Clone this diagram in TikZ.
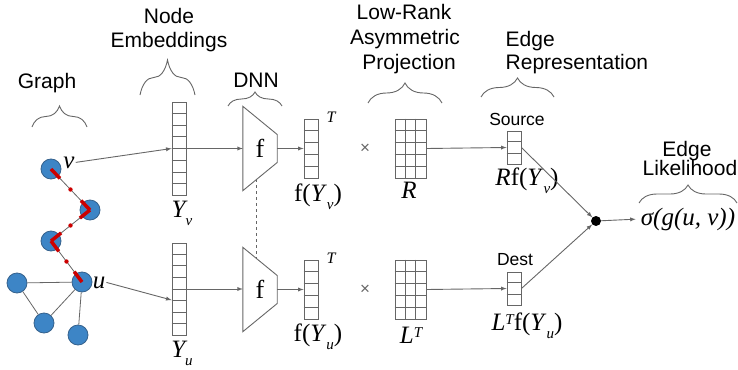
\documentclass[tikz,border=0pt]{standalone}
\usepackage{fontspec}
\setmainfont{Liberation Sans}
\newfontfamily\timesf{Liberation Serif}
\usetikzlibrary{positioning,arrows,calc,decorations.pathreplacing}
\definecolor{linegray}{HTML}{666666}
\definecolor{nodeblue}{HTML}{3D85C6}
\definecolor{nodeedge}{HTML}{35618C}
\definecolor{walkred}{HTML}{CC0000}
\newcommand{\lowsub}[1]{\raisebox{-8pt}{\fontsize{15}{15}\selectfont\itshape #1}}
\newcommand{\highsup}[1]{\raisebox{6pt}{\fontsize{15}{15}\selectfont\itshape #1}}

\begin{document}
\begin{tikzpicture}[x=1pt, y=-1pt,
    gnode/.style ={
        circle,
        fill=nodeblue,
        draw=nodeedge,
        line width=0.8pt,
        minimum size=20pt,
        inner sep=0pt
    },
    gedge/.style ={draw=linegray, line width=0.8pt},
    walk/.style ={draw=walkred, line width=3.5pt},
    arr/.style ={-latex, draw=linegray, line width=0.9pt},
    vec/.style ={
        draw=linegray,
        line width=0.9pt,
        inner sep=0pt,
        minimum width=14pt
    },
    cellline/.style ={draw=linegray, line width=0.9pt},
    dnnf/.style ={
        inner sep=0pt,
        minimum width=34pt,
        minimum height=84pt,
        font=\timesf\fontsize{26}{26}\selectfont
    },
    dnnbox/.style ={draw=linegray, line width=0.9pt},
    heading/.style ={anchor=base, inner sep=0pt, font=\fontsize{21}{25}\selectfont},
    vectag/.style ={anchor=base, inner sep=0pt, font=\fontsize{17.5}{18}\selectfont},
    mathlbl/.style ={anchor=base, inner sep=1pt, font=\timesf\fontsize{25}{25}\selectfont},
    curly/.style ={
        decorate,
        decoration={brace, amplitude=#1},
        draw=linegray,
        line width=0.9pt
    }
    ]
    \useasboundingbox (0,0) rectangle (738,369);

    \foreach \n/ \x/ \y/ \txt in {hgraph/47/88/Graph, hnode/169/24/Node, hemb/169/48/Embeddings, hdnn/256/87/DNN,
                                 hlow/404/20/Low-Rank, hasym/405/45/Asymmetric, hproj/409/70/Projection,
                                 hlik/687/156/Edge, hlikb/690/175/Likelihood}
        \node[heading] (\n) at (\x,\y) {\txt};
    \node[heading, anchor=base west] (hedge) at (505.5,47) {Edge};
    \node[heading, anchor=base west] (hrep) at (505.5,70) {Representation};

    \foreach \a/ \b/ \y/ \amp in {32/87/127/21, 140/195/95/35, 228/282/106/14, 368/442/103/20, 481/554/97/19, 639/737/203/18}
        \draw[curly=\amp pt] (\a,\y) -- (\b,\y);

    \foreach \n/ \x/ \y in {nv/51/169, na/90/210, nb/51/241, nu/82/282, nl/17/283, nc/44/323, nd/78/335}
        \node[gnode] (\n) at (\x,\y) {};
    \foreach \src/ \dst in {nv/na, na/nb, nb/nu, nl/nu, nl/nc, nc/nu, nu/nd}
        \draw[gedge] (\src) -- (\dst);
    \foreach \src/ \dst in {nv/na, na/nb, nb/nu} {
        \draw[walk] (\src.center) -- ($(\src.center)!13pt!(\dst.center)$);
        \draw[walk] (\dst.center) -- ($(\dst.center)!13pt!(\src.center)$);
        \fill[walkred] ($(\src.center)!0.5!(\dst.center)$) circle (2.2pt);
    }
    \node[mathlbl] (lv) at (69,168) {\itshape v};
    \node[mathlbl] (lu) at (99,288) {\itshape u};

    \foreach \name/ \x/ \y/ \h/ \cells in {Yv/179/148.5/93/8, Yu/179/289/92/8, fYv/311/148.5/59/5, fYu/311/289.5/59/5, Src/514/147.5/33/3, Dst/514/288.5/33/3} {
        \node[vec, minimum height=\h pt] (\name) at (\x,\y) {};
        \foreach \i in {2,...,\cells}
            \draw[cellline] ($(\name.north west)!{(\i-1)/\cells}!(\name.south west)$) -- ($(\name.north east)!{(\i-1)/\cells}!(\name.south east)$);
    }

    \foreach \name/ \y in {R/148.5, LT/289.5} {
        \node[vec, minimum width=31pt, minimum height=59pt] (\name) at (410.5,\y) {};
        \foreach \i in {1,...,4}
            \draw[cellline] ($(\name.north west)!{\i/5}!(\name.south west)$) -- ($(\name.north east)!{\i/5}!(\name.south east)$);
        \foreach \i in {1,2}
            \draw[cellline] ($(\name.north west)!{\i/3}!(\name.north east)$) -- ($(\name.south west)!{\i/3}!(\name.south east)$);
    }

    \foreach \s/ \y in {v/148.5, u/289.5} {
        \node[dnnf] (f\s) at (260,\y) {f};
        \draw[dnnbox] (f\s.north west) -- ($(f\s.east)+(0,-14)$) coordinate (trf\s)
            -- ($(f\s.east)+(0,14)$) coordinate (brf\s) -- (f\s.south west) coordinate (blf\s) -- cycle;
        \node[mathlbl, font=\timesf\fontsize{16}{16}\selectfont] (T\s) at (331,\y-26) {\itshape T};
        \node[text=linegray, font=\fontsize{17}{17}\selectfont] (x\s) at (365,\y) {×};
        \draw[arr] (Y\s.east) -- (Y\s.east -| f\s.west);
        \draw[arr] (f\s.east) -- (fY\s.west);
    }
    \draw[dnnbox, dashed] ($(blfv)!0.41!(brfv)$) -- ($(fu.north west)!0.41!(trfu)$);

    \node[mathlbl] (lYv) at (182,217) {\itshape Y\lowsub{v}};
    \node[mathlbl] (lYu) at (182,357) {\itshape Y\lowsub{u}};
    \node[mathlbl] (lfYv) at (318,201) {f(\textit{Y}\lowsub{v})};
    \node[mathlbl] (lfYu) at (318,341) {f(\textit{Y}\lowsub{u})};
    \node[mathlbl] (lR) at (409,198) {\itshape R};
    \node[mathlbl] (lLT) at (411,343) {\textit{L}\highsup{T}};
    \node[vectag] (tsrc) at (517,125) {Source};
    \node[vectag] (tdst) at (515,265) {Dest};
    \node[mathlbl] (lsrc) at (527,185) {\textit{R}f(\textit{Y}\lowsub{v})};
    \node[mathlbl] (ldst) at (527,330) {\textit{L}\highsup{T}f(\textit{Y}\lowsub{u})};

    \node[circle, fill=black, minimum size=10pt, inner sep=0pt] (dot) at (596,221) {};
    \node[mathlbl] (lik) at (688,225) {\itshape σ(g(u, v))};

    \draw[arr] (lv.east) -- (Yv.west);
    \draw[arr] (lu.east) -- ([yshift=-11pt]Yu.west);
    \draw[arr] (R.east) -- (Src.west);
    \draw[arr] (LT.east) -- (Dst.west);
    \draw[arr] (Src.east) -- (dot);
    \draw[arr] (Dst.east) -- (dot);
    \draw[arr, shorten >=4pt] (dot) -- (lik.west);
\end{tikzpicture}
\end{document}
